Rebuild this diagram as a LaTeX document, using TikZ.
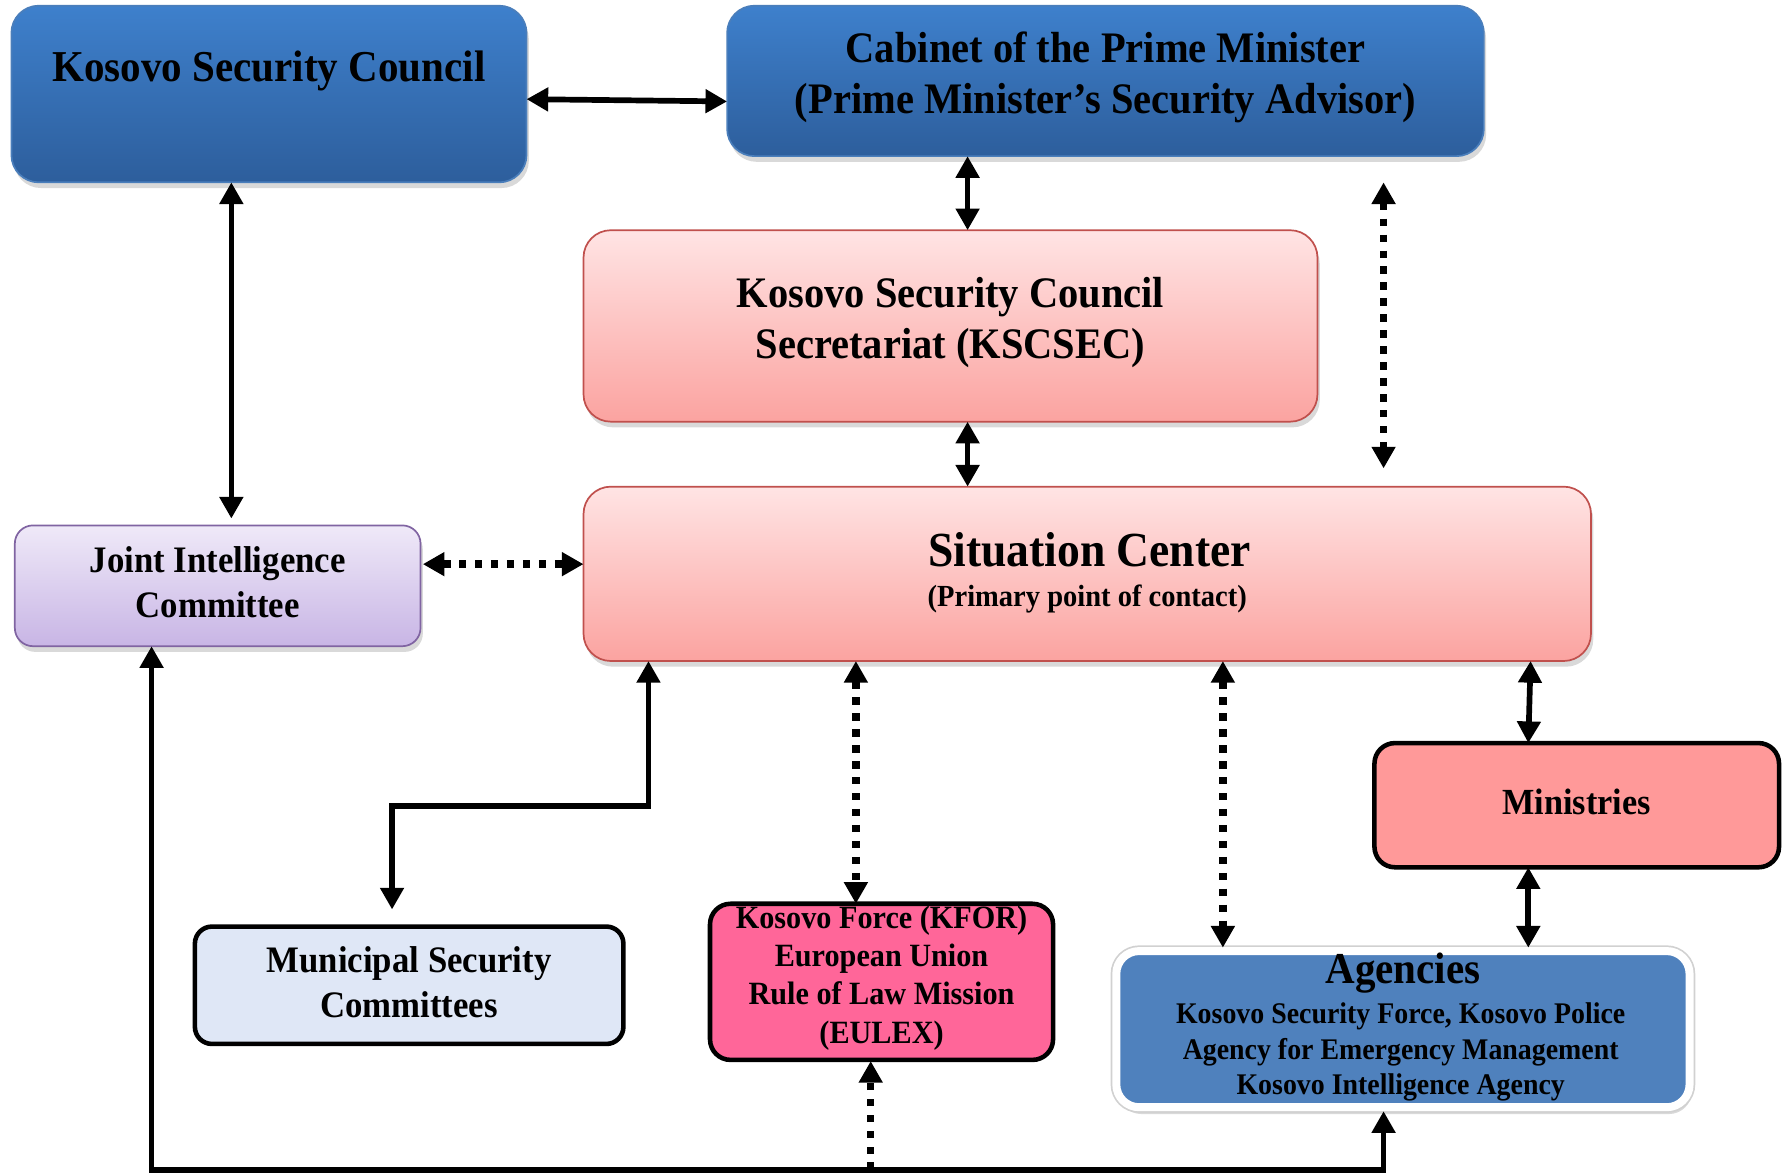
\documentclass[tikz,border=0pt]{standalone}
\usepackage{fontspec}
\setmainfont{Liberation Serif}[FakeStretch=0.93]
\usetikzlibrary{arrows.meta,shadows}
\definecolor{bluetop}{HTML}{3E80CC}
\definecolor{bluebot}{HTML}{2D5E9C}
\definecolor{blueedge}{HTML}{4A7EBB}
\definecolor{pinktop}{HTML}{FFE4E4}
\definecolor{pinkbot}{HTML}{FBA3A0}
\definecolor{pinkedge}{HTML}{C0504D}
\definecolor{lavtop}{HTML}{EFE9F8}
\definecolor{lavbot}{HTML}{C8B5E5}
\definecolor{lavedge}{HTML}{8064A2}
\definecolor{minfill}{HTML}{FF9999}
\definecolor{munfill}{HTML}{DFE7F6}
\definecolor{kforfill}{HTML}{FF6699}
\definecolor{agfill}{HTML}{4F81BD}
\begin{document}
\begin{tikzpicture}[x=1pt,y=-1pt,
  base/.style={inner sep=0pt, outer sep=0pt, align=center},
  shad/.style={drop shadow={shadow xshift=2pt, shadow yshift=-5pt, opacity=0.3}},
  bluebox/.style={base, shad, draw=blueedge, line width=1.5pt, top color=bluetop, bottom color=bluebot, rounded corners=24pt},
  pinkbox/.style={base, shad, draw=pinkedge, line width=1.5pt, top color=pinktop, bottom color=pinkbot, rounded corners=24pt},
  lavbox/.style={base, shad, draw=lavedge, line width=1.5pt, top color=lavtop, bottom color=lavbot, rounded corners=16pt},
  heavybox/.style={base, draw=black, line width=4pt, rounded corners=18pt},
  agbox/.style={base, drop shadow={shadow xshift=2pt, shadow yshift=-6pt, opacity=0.3}, preaction={draw=black!18, line width=10pt}, draw=white, line width=7pt, fill=agfill, rounded corners=20pt},
  txt/.style={inner sep=0pt, align=center},
  tip/.tip={Triangle[width=20pt,length=19pt]},
  sline/.style={line width=5pt, tip-tip},
  dline/.style={line width=6.5pt, dash pattern=on 6.5pt off 7.5pt, tip-tip},
  dlineup/.style={line width=6.5pt, dash pattern=on 6.5pt off 7.5pt, -tip}
]
\useasboundingbox (0,0) rectangle (1568,1029);

% boxes
\node[bluebox, minimum width=452pt, minimum height=155pt] (ksc) at (236,82.5) {};
\node[txt, font=\bfseries\fontsize{38.7}{44}\selectfont] (kscT) at (236,62) {Kosovo Security Council};

\node[bluebox, minimum width=664pt, minimum height=132pt] (cab) at (970,71) {};
\node[txt, font=\bfseries\fontsize{38.2}{45}\selectfont] (cabT) at (970,68) {Cabinet of the Prime Minister\\(Prime Minister’s Security Advisor)};

\node[pinkbox, minimum width=644pt, minimum height=168pt] (ksec) at (834,286) {};
\node[txt, font=\bfseries\fontsize{38.2}{44}\selectfont] (ksecT) at (834,283) {Kosovo Security Council\\Secretariat (KSCSEC)};

\node[pinkbox, minimum width=884pt, minimum height=153pt] (sit) at (954,503.5) {};
\node[txt, font=\bfseries\fontsize{43}{44}\selectfont] (sitT) at (956,482) {Situation Center};
\node[txt, font=\bfseries\fontsize{26.9}{30}\selectfont] (sitS) at (954,526) {(Primary point of contact)};

\node[lavbox, minimum width=356pt, minimum height=106pt] (jic) at (191,514) {};
\node[txt, font=\bfseries\fontsize{32.8}{39}\selectfont] (jicT) at (191,511) {Joint Intelligence\\Committee};

\node[heavybox, fill=minfill, minimum width=355pt, minimum height=109pt] (min) at (1383.5,706.5) {};
\node[txt, font=\bfseries\fontsize{32.3}{36}\selectfont] (minT) at (1383.5,704) {Ministries};

\node[heavybox, fill=munfill, minimum width=376pt, minimum height=103pt, rounded corners=15pt] (mun) at (359,864.5) {};
\node[txt, font=\bfseries\fontsize{32.8}{39}\selectfont] (munT) at (359,862) {Municipal Security\\Committees};

\node[heavybox, fill=kforfill, minimum width=301pt, minimum height=137pt] (kfor) at (773.5,861.5) {};
\node[txt, font=\bfseries\fontsize{28.5}{33.7}\selectfont] (kforT) at (773.5,858) {Kosovo Force (KFOR)\\European Union\\Rule of Law Mission\\(EULEX)};

\node[agbox, minimum width=503pt, minimum height=137pt] (ag) at (1231,903) {};
\node[txt, font=\bfseries\fontsize{38.7}{40}\selectfont] (agT) at (1231,854) {Agencies};
\node[txt, font=\bfseries\fontsize{26.3}{31.5}\selectfont] (agS) at (1229,923) {Kosovo Security Force, Kosovo Police\\Agency for Emergency Management\\Kosovo Intelligence Agency};

% connectors
\draw[sline] ([yshift=-4.5pt]ksc.east) -- ([yshift=-18pt]cab.west);
\draw[sline, shorten >=6pt] ([xshift=-33pt]ksc.south) -- ([xshift=12pt]jic.north);
\draw[sline] ([xshift=-121pt]cab.south) -- ([xshift=15pt]ksec.north);
\draw[sline] ([xshift=15pt]ksec.south) -- ([xshift=-105pt]sit.north);
\draw[dline, shorten <=23pt, shorten >=16pt] ([xshift=244pt]cab.south) -- ([xshift=260pt]sit.north);
\draw[dline, shorten <=2pt] ([yshift=19pt]jic.east) -- ([yshift=8.5pt]sit.west);
\draw[sline, shorten >=15pt] ([xshift=-385pt]sit.south) -- ++(0,127) -| ([xshift=-15pt]mun.north);
\draw[dline] ([xshift=-203pt]sit.south) -- ([xshift=-22.5pt]kfor.north);
\draw[dline, shorten >=3pt] ([xshift=119pt]sit.south) -- ([xshift=-158pt]ag.north);
\draw[sline] ([xshift=389pt]sit.south) -- ([xshift=-42.5pt]min.north);
\draw[sline, shorten >=3pt] ([xshift=-42.5pt]min.south) -- ([xshift=110pt]ag.north);
\coordinate (bl) at (1214,1026.5);
\coordinate (kb) at (764,1026.5);
\draw[sline, shorten >=3.5pt] ([xshift=-58pt]jic.south) |- (bl) -- ([xshift=-17pt]ag.south);
\draw[dlineup, shorten >=1pt] (kb) -- ([xshift=-9.5pt]kfor.south);
\end{tikzpicture}
\end{document}
